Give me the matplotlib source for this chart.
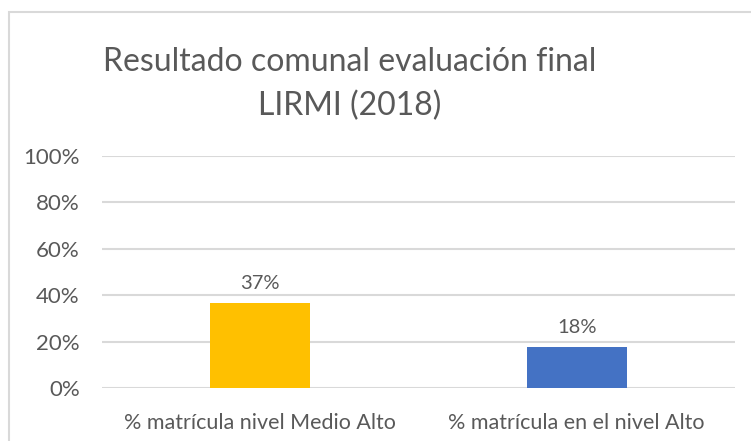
import matplotlib
matplotlib.use("Agg")
import matplotlib.pyplot as plt
from matplotlib.patches import Rectangle

categories = ["% matrícula nivel Medio Alto", "% matrícula en el nivel Alto"]
values = [0.366, 0.175]
labels = ["37%", "18%"]
colors = ["#FFC000", "#4472C4"]
yticks = [0, 0.2, 0.4, 0.6, 0.8, 1.0]
yticklabels = ["0%", "20%", "40%", "60%", "80%", "100%"]
title = "Resultado comunal evaluación final\nLIRMI (2018)"

plt.rcParams['font.family'] = ['Lato', 'DejaVu Sans']
txt = "#595959"

fig = plt.figure(figsize=(7.51, 4.41), dpi=100)
W, H = 751, 441
ax = fig.add_axes([102 / W, 1 - 388 / H, (735 - 102) / W, (388 - 156) / H])

x = range(len(categories))
ax.bar(x, values, width=0.316, color=colors, zorder=3)
for xi, v, lab in zip(x, values, labels):
    ax.annotate(lab, (xi, v), xytext=(0, 8), textcoords="offset points",
                ha="center", va="bottom", fontsize=14.5, color=txt)

ax.set_xlim(-0.5, 1.5)
ax.set_ylim(0, 1.0)
ax.set_yticks(yticks)
ax.set_yticklabels(yticklabels, fontsize=16, color=txt)
ax.set_xticks(list(x))
ax.set_xticklabels(categories, fontsize=15.5, color=txt)
ax.tick_params(axis="both", length=0)
ax.tick_params(axis="y", pad=16)
ax.tick_params(axis="x", pad=18)
ax.yaxis.grid(True, color="#D9D9D9", linewidth=1.5, zorder=0)
for s in ax.spines.values():
    s.set_visible(False)

fig.text(350 / W, 1 - 84 / H, title, ha="center", va="center", fontsize=23,
         color=txt, linespacing=1.55)

fig.patches.append(Rectangle((8.5 / W, -0.1), 1.2, 1 - 11.5 / H + 0.1,
                             transform=fig.transFigure, fill=False,
                             edgecolor="#D9D9D9", linewidth=1.5))

fig.savefig("out.png", dpi=100, facecolor="white")
